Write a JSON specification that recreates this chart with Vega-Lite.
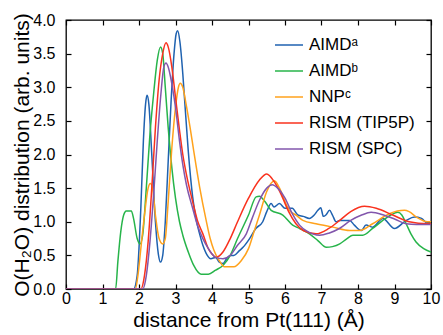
{
  "$schema": "https://vega.github.io/schema/vega-lite/v6.json",
  "autosize": "none",
  "width": 365,
  "height": 269,
  "padding": {"left": 66, "top": 20, "right": 12, "bottom": 46},
  "background": "white",
  "config": {
    "font": "Liberation Sans",
    "view": {"stroke": "black", "strokeWidth": 1.3},
    "axis": {"domain": false, "grid": false, "ticks": true, "tickColor": "black", "tickWidth": 1.2, "tickSize": -5, "labelColor": "black", "titleColor": "black", "labelFont": "Liberation Sans", "titleFont": "Liberation Sans", "labelFontSize": 16, "titleFontSize": 21, "titleFontWeight": "normal"}
  },
  "datasets": {
    "curves": [
      {"s": "AIMDᵃ", "x": 0, "y": 0}, {"s": "AIMDᵃ", "x": 1.85, "y": 0}, {"s": "AIMDᵃ", "x": 1.95, "y": 0.2}, {"s": "AIMDᵃ", "x": 2.05, "y": 1.2}, {"s": "AIMDᵃ", "x": 2.12, "y": 2.2}, {"s": "AIMDᵃ", "x": 2.18, "y": 2.75}, {"s": "AIMDᵃ", "x": 2.22, "y": 2.88}, {"s": "AIMDᵃ", "x": 2.27, "y": 2.75}, {"s": "AIMDᵃ", "x": 2.35, "y": 2.0}, {"s": "AIMDᵃ", "x": 2.45, "y": 1.0}, {"s": "AIMDᵃ", "x": 2.53, "y": 0.52}, {"s": "AIMDᵃ", "x": 2.59, "y": 0.4}, {"s": "AIMDᵃ", "x": 2.65, "y": 0.5}, {"s": "AIMDᵃ", "x": 2.72, "y": 1.0}, {"s": "AIMDᵃ", "x": 2.8, "y": 1.9}, {"s": "AIMDᵃ", "x": 2.88, "y": 2.8}, {"s": "AIMDᵃ", "x": 2.96, "y": 3.5}, {"s": "AIMDᵃ", "x": 3.02, "y": 3.8}, {"s": "AIMDᵃ", "x": 3.06, "y": 3.84}, {"s": "AIMDᵃ", "x": 3.12, "y": 3.68}, {"s": "AIMDᵃ", "x": 3.2, "y": 3.2}, {"s": "AIMDᵃ", "x": 3.25, "y": 2.81}, {"s": "AIMDᵃ", "x": 3.35, "y": 2.05}, {"s": "AIMDᵃ", "x": 3.47, "y": 1.37}, {"s": "AIMDᵃ", "x": 3.56, "y": 1.05}, {"s": "AIMDᵃ", "x": 3.66, "y": 0.82}, {"s": "AIMDᵃ", "x": 3.75, "y": 0.65}, {"s": "AIMDᵃ", "x": 3.84, "y": 0.53}, {"s": "AIMDᵃ", "x": 3.97, "y": 0.45}, {"s": "AIMDᵃ", "x": 4.1, "y": 0.47}, {"s": "AIMDᵃ", "x": 4.2, "y": 0.4}, {"s": "AIMDᵃ", "x": 4.3, "y": 0.38}, {"s": "AIMDᵃ", "x": 4.4, "y": 0.45}, {"s": "AIMDᵃ", "x": 4.5, "y": 0.5}, {"s": "AIMDᵃ", "x": 4.6, "y": 0.5}, {"s": "AIMDᵃ", "x": 4.75, "y": 0.57}, {"s": "AIMDᵃ", "x": 4.85, "y": 0.62}, {"s": "AIMDᵃ", "x": 5.03, "y": 0.75}, {"s": "AIMDᵃ", "x": 5.2, "y": 0.9}, {"s": "AIMDᵃ", "x": 5.39, "y": 1.0}, {"s": "AIMDᵃ", "x": 5.5, "y": 1.15}, {"s": "AIMDᵃ", "x": 5.62, "y": 1.27}, {"s": "AIMDᵃ", "x": 5.7, "y": 1.22}, {"s": "AIMDᵃ", "x": 5.85, "y": 1.27}, {"s": "AIMDᵃ", "x": 6.0, "y": 1.2}, {"s": "AIMDᵃ", "x": 6.2, "y": 1.2}, {"s": "AIMDᵃ", "x": 6.35, "y": 1.1}, {"s": "AIMDᵃ", "x": 6.5, "y": 1.08}, {"s": "AIMDᵃ", "x": 6.67, "y": 1.05}, {"s": "AIMDᵃ", "x": 6.8, "y": 1.1}, {"s": "AIMDᵃ", "x": 6.9, "y": 1.17}, {"s": "AIMDᵃ", "x": 6.98, "y": 1.21}, {"s": "AIMDᵃ", "x": 7.05, "y": 1.08}, {"s": "AIMDᵃ", "x": 7.12, "y": 1.1}, {"s": "AIMDᵃ", "x": 7.22, "y": 1.17}, {"s": "AIMDᵃ", "x": 7.3, "y": 1.1}, {"s": "AIMDᵃ", "x": 7.4, "y": 1.0}, {"s": "AIMDᵃ", "x": 7.5, "y": 1.02}, {"s": "AIMDᵃ", "x": 7.77, "y": 1.02}, {"s": "AIMDᵃ", "x": 7.9, "y": 0.95}, {"s": "AIMDᵃ", "x": 8.09, "y": 0.87}, {"s": "AIMDᵃ", "x": 8.22, "y": 0.95}, {"s": "AIMDᵃ", "x": 8.4, "y": 0.92}, {"s": "AIMDᵃ", "x": 8.68, "y": 1.05}, {"s": "AIMDᵃ", "x": 9.0, "y": 0.9}, {"s": "AIMDᵃ", "x": 9.32, "y": 1.02}, {"s": "AIMDᵃ", "x": 9.55, "y": 1.07}, {"s": "AIMDᵃ", "x": 9.74, "y": 1.05}, {"s": "AIMDᵃ", "x": 9.9, "y": 0.98}, {"s": "AIMDᵃ", "x": 10, "y": 0.98},

      {"s": "AIMDᵇ", "x": 0, "y": 0}, {"s": "AIMDᵇ", "x": 1.36, "y": 0}, {"s": "AIMDᵇ", "x": 1.42, "y": 0.4}, {"s": "AIMDᵇ", "x": 1.5, "y": 0.85}, {"s": "AIMDᵇ", "x": 1.58, "y": 1.1}, {"s": "AIMDᵇ", "x": 1.65, "y": 1.16}, {"s": "AIMDᵇ", "x": 1.79, "y": 1.16}, {"s": "AIMDᵇ", "x": 1.85, "y": 1.05}, {"s": "AIMDᵇ", "x": 1.95, "y": 0.75}, {"s": "AIMDᵇ", "x": 2.03, "y": 0.67}, {"s": "AIMDᵇ", "x": 2.1, "y": 0.8}, {"s": "AIMDᵇ", "x": 2.2, "y": 1.5}, {"s": "AIMDᵇ", "x": 2.3, "y": 2.3}, {"s": "AIMDᵇ", "x": 2.4, "y": 2.9}, {"s": "AIMDᵇ", "x": 2.5, "y": 3.4}, {"s": "AIMDᵇ", "x": 2.59, "y": 3.6}, {"s": "AIMDᵇ", "x": 2.65, "y": 3.5}, {"s": "AIMDᵇ", "x": 2.72, "y": 3.0}, {"s": "AIMDᵇ", "x": 2.8, "y": 2.4}, {"s": "AIMDᵇ", "x": 2.9, "y": 1.8}, {"s": "AIMDᵇ", "x": 3.0, "y": 1.35}, {"s": "AIMDᵇ", "x": 3.11, "y": 1.0}, {"s": "AIMDᵇ", "x": 3.2, "y": 0.8}, {"s": "AIMDᵇ", "x": 3.35, "y": 0.55}, {"s": "AIMDᵇ", "x": 3.5, "y": 0.35}, {"s": "AIMDᵇ", "x": 3.7, "y": 0.22}, {"s": "AIMDᵇ", "x": 3.9, "y": 0.22}, {"s": "AIMDᵇ", "x": 4.1, "y": 0.28}, {"s": "AIMDᵇ", "x": 4.3, "y": 0.35}, {"s": "AIMDᵇ", "x": 4.5, "y": 0.5}, {"s": "AIMDᵇ", "x": 4.7, "y": 0.75}, {"s": "AIMDᵇ", "x": 5.0, "y": 1.1}, {"s": "AIMDᵇ", "x": 5.21, "y": 1.37}, {"s": "AIMDᵇ", "x": 5.3, "y": 1.38}, {"s": "AIMDᵇ", "x": 5.45, "y": 1.3}, {"s": "AIMDᵇ", "x": 5.62, "y": 1.17}, {"s": "AIMDᵇ", "x": 5.94, "y": 1.1}, {"s": "AIMDᵇ", "x": 6.21, "y": 0.95}, {"s": "AIMDᵇ", "x": 6.4, "y": 0.9}, {"s": "AIMDᵇ", "x": 6.67, "y": 0.82}, {"s": "AIMDᵇ", "x": 6.9, "y": 0.72}, {"s": "AIMDᵇ", "x": 7.13, "y": 0.62}, {"s": "AIMDᵇ", "x": 7.3, "y": 0.63}, {"s": "AIMDᵇ", "x": 7.5, "y": 0.67}, {"s": "AIMDᵇ", "x": 7.7, "y": 0.75}, {"s": "AIMDᵇ", "x": 7.86, "y": 0.8}, {"s": "AIMDᵇ", "x": 8.13, "y": 0.8}, {"s": "AIMDᵇ", "x": 8.4, "y": 0.9}, {"s": "AIMDᵇ", "x": 8.68, "y": 1.02}, {"s": "AIMDᵇ", "x": 8.9, "y": 1.1}, {"s": "AIMDᵇ", "x": 9.09, "y": 1.14}, {"s": "AIMDᵇ", "x": 9.2, "y": 1.1}, {"s": "AIMDᵇ", "x": 9.32, "y": 0.97}, {"s": "AIMDᵇ", "x": 9.45, "y": 0.82}, {"s": "AIMDᵇ", "x": 9.59, "y": 0.7}, {"s": "AIMDᵇ", "x": 9.8, "y": 0.6}, {"s": "AIMDᵇ", "x": 10, "y": 0.55},

      {"s": "NNPᶜ", "x": 0, "y": 0}, {"s": "NNPᶜ", "x": 1.9, "y": 0}, {"s": "NNPᶜ", "x": 1.97, "y": 0.2}, {"s": "NNPᶜ", "x": 2.05, "y": 0.6}, {"s": "NNPᶜ", "x": 2.15, "y": 1.1}, {"s": "NNPᶜ", "x": 2.25, "y": 1.5}, {"s": "NNPᶜ", "x": 2.31, "y": 1.57}, {"s": "NNPᶜ", "x": 2.37, "y": 1.5}, {"s": "NNPᶜ", "x": 2.45, "y": 1.1}, {"s": "NNPᶜ", "x": 2.55, "y": 0.75}, {"s": "NNPᶜ", "x": 2.65, "y": 0.67}, {"s": "NNPᶜ", "x": 2.72, "y": 0.75}, {"s": "NNPᶜ", "x": 2.8, "y": 1.3}, {"s": "NNPᶜ", "x": 2.9, "y": 2.1}, {"s": "NNPᶜ", "x": 3.0, "y": 2.7}, {"s": "NNPᶜ", "x": 3.08, "y": 3.0}, {"s": "NNPᶜ", "x": 3.13, "y": 3.06}, {"s": "NNPᶜ", "x": 3.2, "y": 3.0}, {"s": "NNPᶜ", "x": 3.29, "y": 2.75}, {"s": "NNPᶜ", "x": 3.4, "y": 2.4}, {"s": "NNPᶜ", "x": 3.5, "y": 2.05}, {"s": "NNPᶜ", "x": 3.66, "y": 1.52}, {"s": "NNPᶜ", "x": 3.84, "y": 1.02}, {"s": "NNPᶜ", "x": 3.95, "y": 0.75}, {"s": "NNPᶜ", "x": 4.05, "y": 0.58}, {"s": "NNPᶜ", "x": 4.2, "y": 0.42}, {"s": "NNPᶜ", "x": 4.34, "y": 0.33}, {"s": "NNPᶜ", "x": 4.6, "y": 0.33}, {"s": "NNPᶜ", "x": 4.8, "y": 0.42}, {"s": "NNPᶜ", "x": 5.0, "y": 0.6}, {"s": "NNPᶜ", "x": 5.15, "y": 0.85}, {"s": "NNPᶜ", "x": 5.3, "y": 1.1}, {"s": "NNPᶜ", "x": 5.5, "y": 1.45}, {"s": "NNPᶜ", "x": 5.71, "y": 1.61}, {"s": "NNPᶜ", "x": 5.85, "y": 1.5}, {"s": "NNPᶜ", "x": 6.0, "y": 1.3}, {"s": "NNPᶜ", "x": 6.12, "y": 1.17}, {"s": "NNPᶜ", "x": 6.3, "y": 1.1}, {"s": "NNPᶜ", "x": 6.49, "y": 1.02}, {"s": "NNPᶜ", "x": 6.85, "y": 0.97}, {"s": "NNPᶜ", "x": 7.31, "y": 0.92}, {"s": "NNPᶜ", "x": 7.77, "y": 0.87}, {"s": "NNPᶜ", "x": 8.04, "y": 0.87}, {"s": "NNPᶜ", "x": 8.4, "y": 0.97}, {"s": "NNPᶜ", "x": 8.86, "y": 1.12}, {"s": "NNPᶜ", "x": 9.27, "y": 1.17}, {"s": "NNPᶜ", "x": 9.4, "y": 1.15}, {"s": "NNPᶜ", "x": 9.6, "y": 1.07}, {"s": "NNPᶜ", "x": 9.9, "y": 1.0}, {"s": "NNPᶜ", "x": 10, "y": 1.0},

      {"s": "RISM (TIP5P)", "x": 0, "y": 0}, {"s": "RISM (TIP5P)", "x": 2.05, "y": 0}, {"s": "RISM (TIP5P)", "x": 2.15, "y": 0.2}, {"s": "RISM (TIP5P)", "x": 2.25, "y": 0.7}, {"s": "RISM (TIP5P)", "x": 2.35, "y": 1.5}, {"s": "RISM (TIP5P)", "x": 2.45, "y": 2.4}, {"s": "RISM (TIP5P)", "x": 2.55, "y": 3.1}, {"s": "RISM (TIP5P)", "x": 2.65, "y": 3.5}, {"s": "RISM (TIP5P)", "x": 2.74, "y": 3.66}, {"s": "RISM (TIP5P)", "x": 2.8, "y": 3.6}, {"s": "RISM (TIP5P)", "x": 2.9, "y": 3.3}, {"s": "RISM (TIP5P)", "x": 3.0, "y": 2.85}, {"s": "RISM (TIP5P)", "x": 3.11, "y": 2.36}, {"s": "RISM (TIP5P)", "x": 3.2, "y": 2.0}, {"s": "RISM (TIP5P)", "x": 3.3, "y": 1.7}, {"s": "RISM (TIP5P)", "x": 3.47, "y": 1.3}, {"s": "RISM (TIP5P)", "x": 3.6, "y": 1.02}, {"s": "RISM (TIP5P)", "x": 3.75, "y": 0.82}, {"s": "RISM (TIP5P)", "x": 3.9, "y": 0.6}, {"s": "RISM (TIP5P)", "x": 4.0, "y": 0.52}, {"s": "RISM (TIP5P)", "x": 4.11, "y": 0.47}, {"s": "RISM (TIP5P)", "x": 4.3, "y": 0.55}, {"s": "RISM (TIP5P)", "x": 4.5, "y": 0.75}, {"s": "RISM (TIP5P)", "x": 4.7, "y": 1.0}, {"s": "RISM (TIP5P)", "x": 5.0, "y": 1.35}, {"s": "RISM (TIP5P)", "x": 5.3, "y": 1.62}, {"s": "RISM (TIP5P)", "x": 5.5, "y": 1.71}, {"s": "RISM (TIP5P)", "x": 5.7, "y": 1.6}, {"s": "RISM (TIP5P)", "x": 5.9, "y": 1.4}, {"s": "RISM (TIP5P)", "x": 6.1, "y": 1.15}, {"s": "RISM (TIP5P)", "x": 6.3, "y": 0.97}, {"s": "RISM (TIP5P)", "x": 6.5, "y": 0.87}, {"s": "RISM (TIP5P)", "x": 6.85, "y": 0.82}, {"s": "RISM (TIP5P)", "x": 7.2, "y": 0.9}, {"s": "RISM (TIP5P)", "x": 7.5, "y": 1.02}, {"s": "RISM (TIP5P)", "x": 7.8, "y": 1.15}, {"s": "RISM (TIP5P)", "x": 8.18, "y": 1.23}, {"s": "RISM (TIP5P)", "x": 8.5, "y": 1.2}, {"s": "RISM (TIP5P)", "x": 8.95, "y": 1.1}, {"s": "RISM (TIP5P)", "x": 9.4, "y": 1.0}, {"s": "RISM (TIP5P)", "x": 9.9, "y": 0.97}, {"s": "RISM (TIP5P)", "x": 10, "y": 0.97},

      {"s": "RISM (SPC)", "x": 0, "y": 0}, {"s": "RISM (SPC)", "x": 2.1, "y": 0}, {"s": "RISM (SPC)", "x": 2.2, "y": 0.2}, {"s": "RISM (SPC)", "x": 2.3, "y": 0.7}, {"s": "RISM (SPC)", "x": 2.4, "y": 1.4}, {"s": "RISM (SPC)", "x": 2.5, "y": 2.2}, {"s": "RISM (SPC)", "x": 2.6, "y": 2.9}, {"s": "RISM (SPC)", "x": 2.68, "y": 3.3}, {"s": "RISM (SPC)", "x": 2.74, "y": 3.36}, {"s": "RISM (SPC)", "x": 2.8, "y": 3.3}, {"s": "RISM (SPC)", "x": 2.9, "y": 3.05}, {"s": "RISM (SPC)", "x": 3.0, "y": 2.7}, {"s": "RISM (SPC)", "x": 3.11, "y": 2.2}, {"s": "RISM (SPC)", "x": 3.2, "y": 1.85}, {"s": "RISM (SPC)", "x": 3.3, "y": 1.55}, {"s": "RISM (SPC)", "x": 3.47, "y": 1.2}, {"s": "RISM (SPC)", "x": 3.6, "y": 0.95}, {"s": "RISM (SPC)", "x": 3.75, "y": 0.75}, {"s": "RISM (SPC)", "x": 3.9, "y": 0.6}, {"s": "RISM (SPC)", "x": 4.0, "y": 0.52}, {"s": "RISM (SPC)", "x": 4.1, "y": 0.47}, {"s": "RISM (SPC)", "x": 4.3, "y": 0.45}, {"s": "RISM (SPC)", "x": 4.5, "y": 0.5}, {"s": "RISM (SPC)", "x": 4.7, "y": 0.65}, {"s": "RISM (SPC)", "x": 4.94, "y": 0.82}, {"s": "RISM (SPC)", "x": 5.1, "y": 1.05}, {"s": "RISM (SPC)", "x": 5.3, "y": 1.32}, {"s": "RISM (SPC)", "x": 5.5, "y": 1.5}, {"s": "RISM (SPC)", "x": 5.65, "y": 1.55}, {"s": "RISM (SPC)", "x": 5.8, "y": 1.5}, {"s": "RISM (SPC)", "x": 6.0, "y": 1.35}, {"s": "RISM (SPC)", "x": 6.2, "y": 1.12}, {"s": "RISM (SPC)", "x": 6.4, "y": 0.95}, {"s": "RISM (SPC)", "x": 6.6, "y": 0.86}, {"s": "RISM (SPC)", "x": 6.95, "y": 0.8}, {"s": "RISM (SPC)", "x": 7.2, "y": 0.83}, {"s": "RISM (SPC)", "x": 7.49, "y": 0.9}, {"s": "RISM (SPC)", "x": 7.8, "y": 1.02}, {"s": "RISM (SPC)", "x": 8.1, "y": 1.1}, {"s": "RISM (SPC)", "x": 8.36, "y": 1.14}, {"s": "RISM (SPC)", "x": 8.7, "y": 1.1}, {"s": "RISM (SPC)", "x": 9.0, "y": 1.04}, {"s": "RISM (SPC)", "x": 9.32, "y": 0.97}, {"s": "RISM (SPC)", "x": 9.6, "y": 0.96}, {"s": "RISM (SPC)", "x": 10, "y": 0.96}
    ]
  },
  "data": {"name": "curves"},
  "resolve": {"axis": {"x": "independent", "y": "independent"}},
  "layer": [
    {
      "mark": {"type": "line", "strokeWidth": 1.5, "interpolate": "monotone", "clip": true},
      "encoding": {
        "x": {"field": "x", "type": "quantitative", "scale": {"domain": [0, 10], "nice": false}, "axis": {"title": "distance from Pt(111) (Å)", "values": [0,1,2,3,4,5,6,7,8,9,10], "labelPadding": 6, "titlePadding": 3, "labelFlush": false}},
        "y": {"field": "y", "type": "quantitative", "scale": {"domain": [0, 4], "nice": false}, "axis": {"title": "O(H₂O) distribution (arb. units)", "values": [0,0.5,1,1.5,2,2.5,3,3.5,4], "format": ".1f", "labelPadding": 16, "titlePadding": 0, "labelFlush": false}},
        "color": {"field": "s", "type": "nominal", "sort": ["AIMDᵃ", "AIMDᵇ", "NNPᶜ", "RISM (TIP5P)", "RISM (SPC)"],
          "scale": {"domain": ["AIMDᵃ", "AIMDᵇ", "NNPᶜ", "RISM (TIP5P)", "RISM (SPC)"], "range": ["#1f62b0", "#27b44a", "#ffa21c", "#f9321e", "#8256ac"]},
          "legend": {"title": null, "orient": "none", "legendX": 208, "legendY": 10, "symbolType": "stroke", "symbolSize": 784, "symbolStrokeWidth": 1.5, "labelFontSize": 17, "labelFont": "Liberation Sans", "labelColor": "black", "rowPadding": 3, "labelOffset": 5}}
      }
    },
    {
      "mark": {"type": "line", "opacity": 0},
      "encoding": {
        "x": {"field": "x", "type": "quantitative", "axis": {"orient": "top", "labels": false, "title": null, "values": [0,1,2,3,4,5,6,7,8,9,10]}},
        "y": {"field": "y", "type": "quantitative", "axis": {"orient": "right", "labels": false, "title": null, "values": [0,0.5,1,1.5,2,2.5,3,3.5,4]}},
        "detail": {"field": "s"}
      }
    }
  ]
}
